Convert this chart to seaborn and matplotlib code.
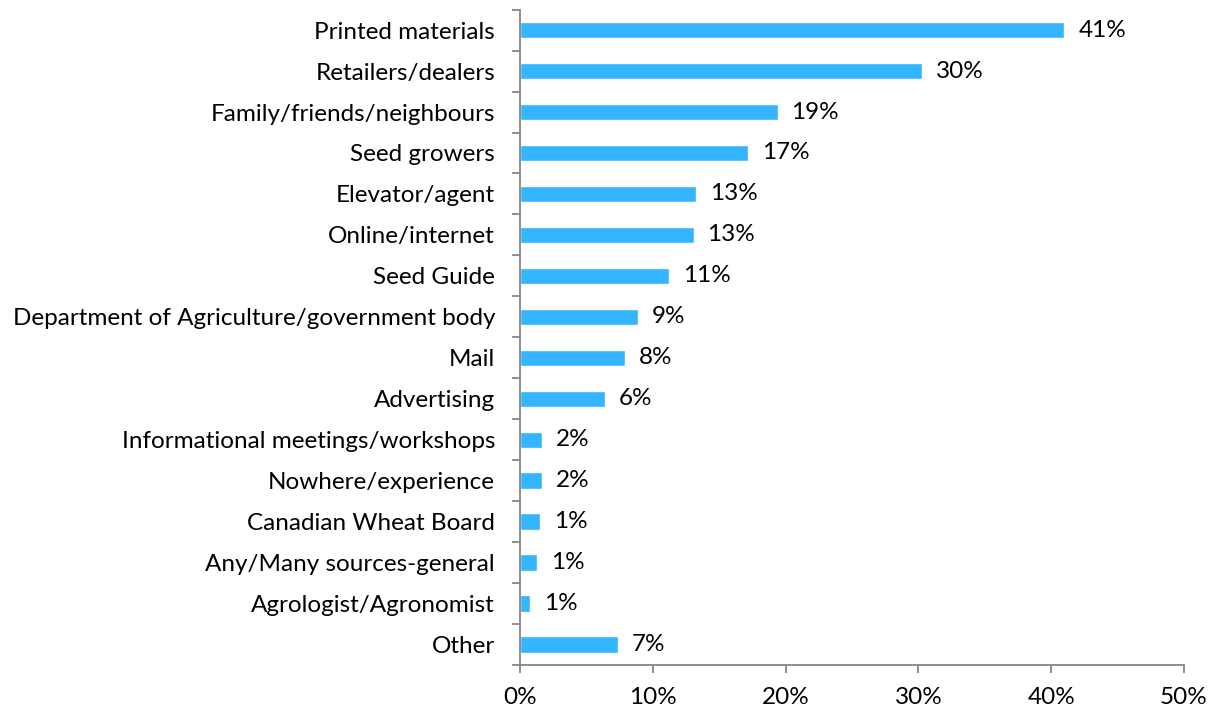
import matplotlib
matplotlib.use("Agg")
import matplotlib.pyplot as plt
from matplotlib.ticker import FixedLocator, PercentFormatter
import seaborn as sns
import pandas as pd

sources = [
    "Printed materials",
    "Retailers/dealers",
    "Family/friends/neighbours",
    "Seed growers",
    "Elevator/agent",
    "Online/internet",
    "Seed Guide",
    "Department of Agriculture/government body",
    "Mail",
    "Advertising",
    "Informational meetings/workshops",
    "Nowhere/experience",
    "Canadian Wheat Board",
    "Any/Many sources-general",
    "Agrologist/Agronomist",
    "Other",
]
shares = [41.0, 30.3, 19.4, 17.15, 13.25, 13.07, 11.2, 8.85, 7.9, 6.4,
          1.65, 1.65, 1.48, 1.28, 0.73, 7.36]
x_ticks = [0, 10, 20, 30, 40, 50]

df = pd.DataFrame({"source": sources, "share": shares})

sns.set_theme(style="white")
plt.rcParams["font.family"] = ["Lato", "DejaVu Sans"]

BAR = "#33B5FF"
AXIS = "#868686"
FS = 17.5

fig = plt.figure(figsize=(12.15, 7.13), dpi=100)
ax = fig.add_axes([0.428, 0.0673, 0.5465, 0.9192])

sns.barplot(data=df, x="share", y="source", orient="h", color=BAR,
            width=0.4, saturation=1, ax=ax)

ax.set_xlim(0, 50)
ax.set_ylim(len(sources) - 0.5, -0.5)
ax.set_xlabel("")
ax.set_ylabel("")

for c in ax.containers:
    ax.bar_label(c, labels=[f"{v:.0f}%" for v in df["share"]],
                 padding=10, fontsize=FS, color="black")

ax.xaxis.set_major_locator(FixedLocator(x_ticks))
ax.xaxis.set_major_formatter(PercentFormatter(decimals=0))
ax.tick_params(axis="x", which="major", direction="out", length=6, width=1.3,
               color=AXIS, labelsize=FS, labelcolor="black", pad=10,
               bottom=True)

# category separators on the vertical axis
ax.yaxis.set_minor_locator(FixedLocator([i - 0.5 for i in range(len(sources) + 1)]))
ax.tick_params(axis="y", which="minor", direction="out", length=6, width=1.3,
               color=AXIS, left=True)
ax.tick_params(axis="y", which="major", length=0, labelsize=FS,
               labelcolor="black", pad=18)

for side in ("top", "right"):
    ax.spines[side].set_visible(False)
for side in ("left", "bottom"):
    ax.spines[side].set_color(AXIS)
    ax.spines[side].set_linewidth(1.3)

fig.savefig("out.png", dpi=100, facecolor="white")
